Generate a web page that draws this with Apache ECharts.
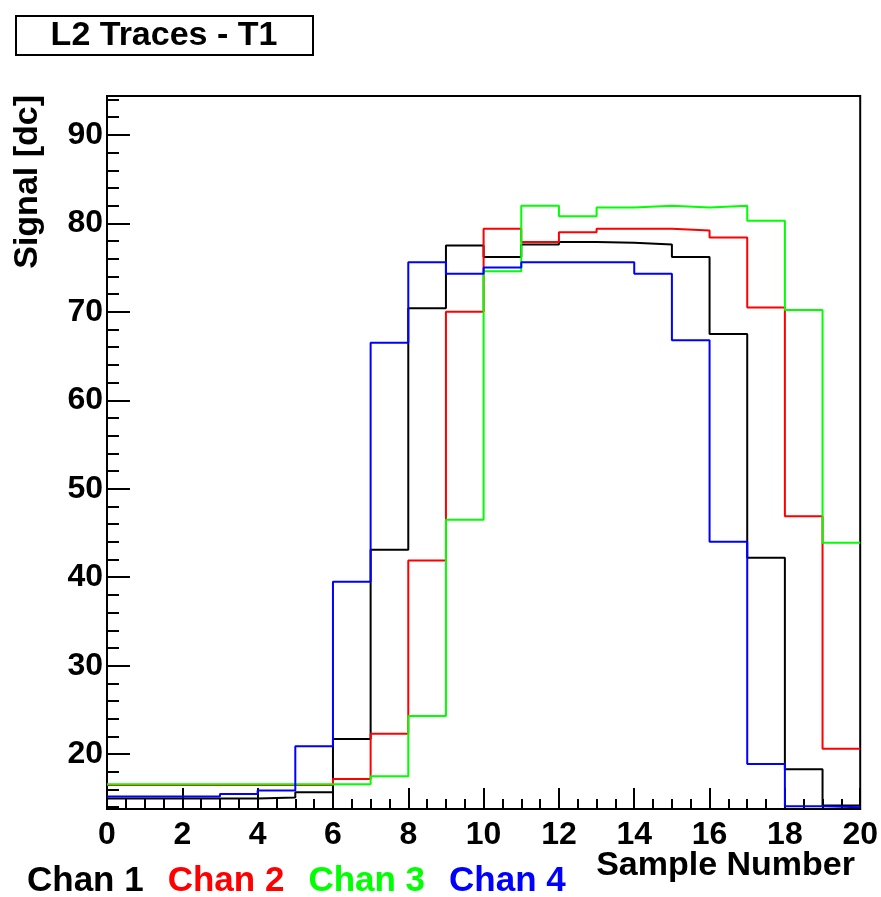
<!DOCTYPE html>
<html>
<head>
<meta charset="utf-8">
<title>L2 Traces - T1</title>
<script src="https://cdn.jsdelivr.net/npm/echarts@6/dist/echarts.min.js"></script>
<style>
html, body { margin: 0; padding: 0; background: #fff; }
#chart { width: 881px; height: 897px; }
</style>
</head>
<body>
<div id="chart"></div>
<script>
// bin edges of the 20 samples
var binEdges = [0,1,2,3,4,5,6,7,8,9,10,11,12,13,14,15,16,17,18,19,20];

// signal per sample (one value per bin)
var chan1 = [15.0,15.0,15.0,15.0,15.1,15.7,21.7,43.1,70.4,77.5,76.2,77.6,77.9,77.8,77.6,76.2,67.5,42.2,18.3,14.2];
var chan2 = [16.5,16.5,16.5,16.5,16.5,16.5,17.2,22.3,41.9,70.0,79.4,77.9,79.0,79.4,79.4,79.2,78.4,70.5,46.9,20.6];
var chan3 = [16.6,16.6,16.6,16.6,16.6,16.6,16.6,17.5,24.3,46.5,74.6,82.0,80.8,81.8,82.0,81.8,82.0,80.3,70.2,43.9];
var chan4 = [15.2,15.2,15.2,15.5,15.9,20.9,39.5,66.5,75.6,74.3,75.0,75.6,75.6,75.6,74.3,66.8,44.0,18.9,14.1,14.0];

var chanNames = ['Chan 1','Chan 2','Chan 3','Chan 4'];
var chanColors = ['#000000','#ff0000','#00ff00','#0000ff'];

// histogram -> step points, last bin closed at the upper edge
function histPoints(vals){
  var pts = [];
  for(var i=0;i<vals.length;i++){
    pts.push([binEdges[i], vals[i]]);
  }
  pts.push([binEdges[vals.length], vals[vals.length-1]]);
  return pts;
}

var allChans = [chan1, chan2, chan3, chan4];
var series_data = [];
for(var i=0;i<allChans.length;i++){
  series_data.push({
    name: chanNames[i],
    type: 'line',
    step: 'end',
    symbol: 'none',
    data: histPoints(allChans[i]),
    lineStyle: {color: chanColors[i], width: 2},
    itemStyle: {color: chanColors[i]},
    z: 3 + i
  });
}

var fontName = '"Liberation Sans", Arial, sans-serif';
var myChart = echarts.init(document.getElementById('chart'), null, {renderer: 'canvas'});

option = {
  animation: false,
  backgroundColor: '#ffffff',
  grid: {
    left: 107, right: 20, top: 96, bottom: 88,
    show: true, borderColor: '#000', borderWidth: 2, backgroundColor: 'transparent'
  },
  legend: {
    data: chanNames.map(function(n, i){
      return {name: n, textStyle: {color: chanColors[i]}};
    }),
    icon: 'none',
    itemWidth: 0,
    itemGap: 19,
    left: 17,
    top: 859,
    textStyle: {fontFamily: fontName, fontWeight: 'bold', fontSize: 35}
  },
  xAxis: {
    type: 'value',
    min: 0, max: 20, interval: 2,
    axisLine: {show: true, lineStyle: {color: '#000', width: 2}},
    axisTick: {show: true, inside: true, length: 21, lineStyle: {color: '#000', width: 2}},
    minorTick: {show: true, splitNumber: 4, length: 10, lineStyle: {color: '#000', width: 2}},
    splitLine: {show: false},
    axisLabel: {color: '#000', fontFamily: fontName, fontWeight: 'bold', fontSize: 32, margin: 10}
  },
  yAxis: {
    type: 'value',
    min: 13.8, max: 94.4,
    splitNumber: 8,
    axisLine: {show: true, lineStyle: {color: '#000', width: 2}},
    axisTick: {show: true, inside: true, length: 23, lineStyle: {color: '#000', width: 2}},
    minorTick: {show: true, splitNumber: 5, length: 12, lineStyle: {color: '#000', width: 2}},
    splitLine: {show: false},
    axisLabel: {
      color: '#000', fontFamily: fontName, fontWeight: 'bold', fontSize: 32, margin: 4,
      showMinLabel: false, showMaxLabel: false,
      formatter: function(value){ return (value % 10 === 0) ? String(value) : ''; }
    }
  },
  graphic: [
    {
      type: 'rect',
      shape: {x: 16, y: 16, width: 297, height: 39},
      style: {fill: '#fff', stroke: '#000', lineWidth: 2}
    },
    {
      type: 'text',
      x: 164, y: 36,
      style: {text: 'L2 Traces - T1', fill: '#000', font: 'bold 34px ' + fontName, align: 'center', verticalAlign: 'middle'}
    },
    {
      type: 'text',
      x: 28, y: 95,
      rotation: Math.PI / 2,
      style: {text: 'Signal [dc]', fill: '#000', font: 'bold 34px ' + fontName, align: 'right', verticalAlign: 'middle'}
    },
    {
      type: 'text',
      x: 855, y: 866,
      style: {text: 'Sample Number', fill: '#000', font: 'bold 34px ' + fontName, align: 'right', verticalAlign: 'middle'}
    }
  ],
  series: series_data
};
myChart.setOption(option);
</script>
</body>
</html>
